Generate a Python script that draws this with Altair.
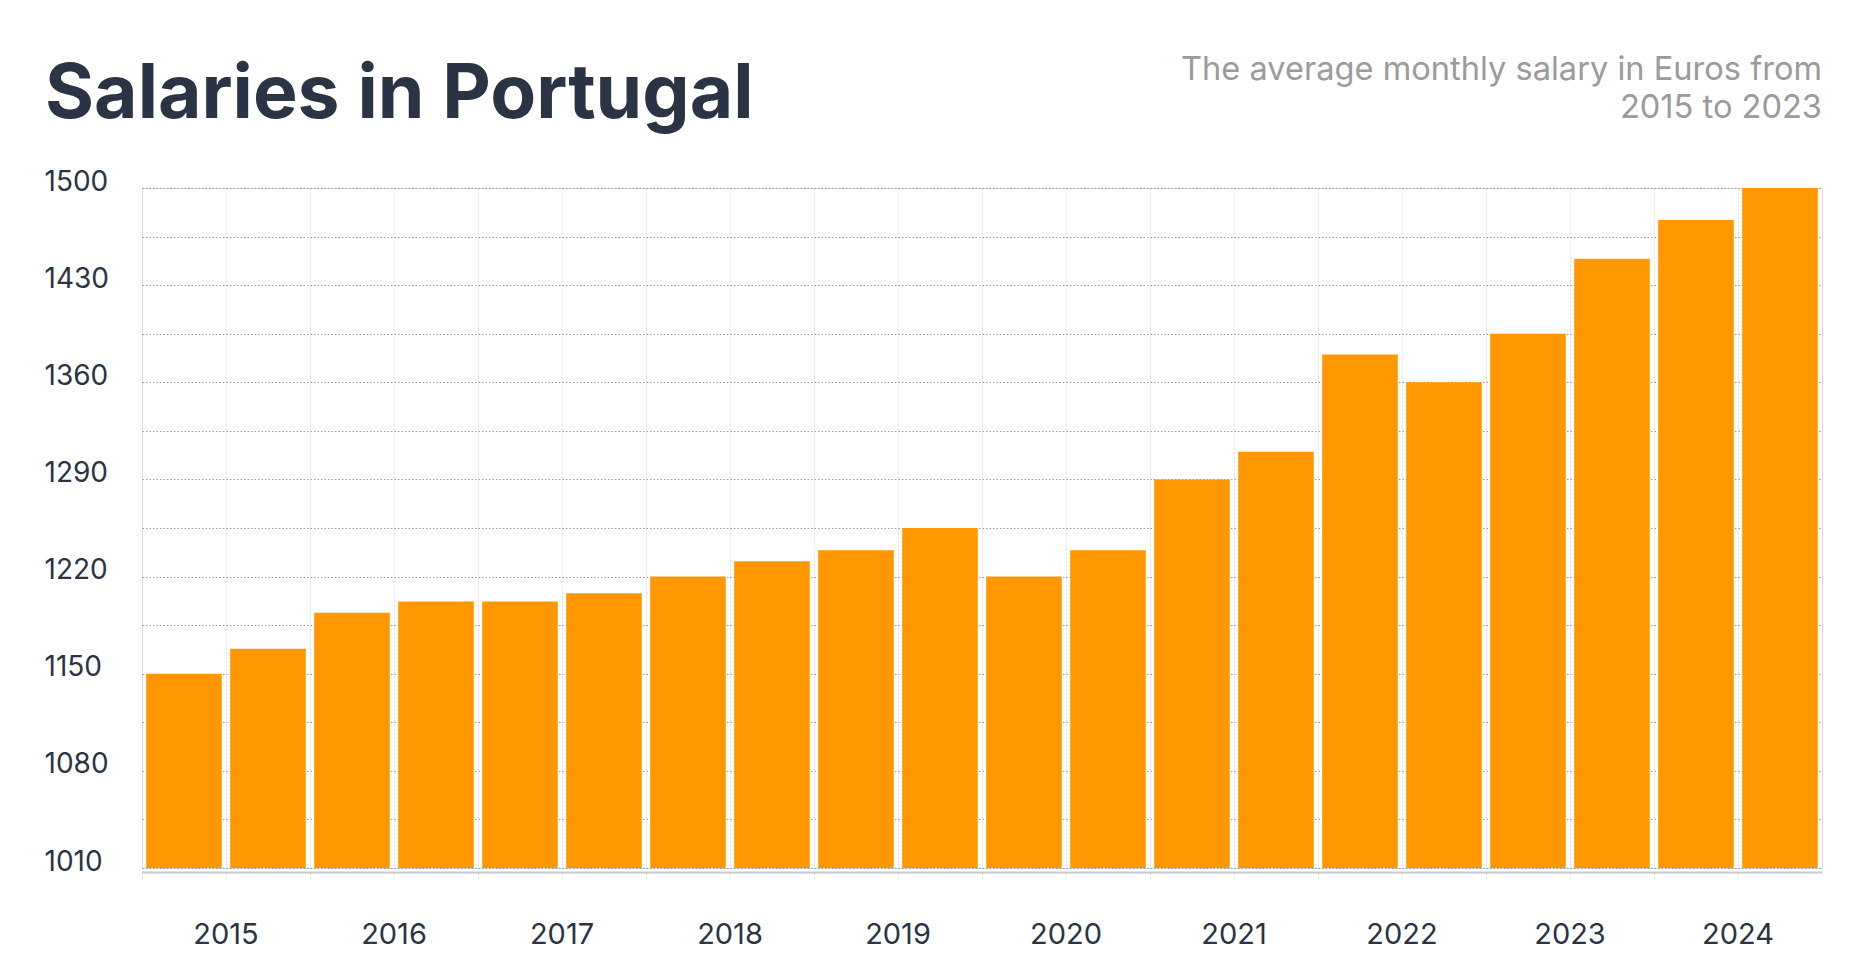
import altair as alt
import pandas as pd

periods = [
    "2015 H1", "2015 H2", "2016 H1", "2016 H2", "2017 H1", "2017 H2",
    "2018 H1", "2018 H2", "2019 H1", "2019 H2", "2020 H1", "2020 H2",
    "2021 H1", "2021 H2", "2022 H1", "2022 H2", "2023 H1", "2023 H2",
    "2024 H1", "2024 H2",
]
salaries = [1150, 1168, 1194, 1202, 1202, 1208, 1220, 1231, 1239, 1255,
            1220, 1239, 1290, 1310, 1380, 1360, 1395, 1449, 1477, 1500]

y_grid = [1010, 1045, 1080, 1115, 1150, 1185, 1220, 1255, 1290, 1325,
          1360, 1395, 1430, 1465, 1500]
y_labels = [1010, 1080, 1150, 1220, 1290, 1360, 1430, 1500]

title = "Salaries in Portugal"
subtitle = ["The average monthly salary in Euros from", "2015 to 2023"]

df = pd.DataFrame({"period": periods, "salary": salaries})

W, H = 1680, 680
STEP = W / len(periods)
FONT = "Inter"
DARK = "#2b3445"

bars = alt.Chart(df).mark_bar(
    color="#ff9800", width=alt.RelativeBandSize(0.9)
).encode(
    x=alt.X("period:N", sort=periods, title=None)
    .scale(paddingInner=0, paddingOuter=0)
    .axis(
        bandPosition=0,
        offset=4,
        # year label sits on the boundary between its two half-years
        labelExpr="slice(datum.value, 5) == 'H2' ? slice(datum.value, 0, 4) : ''",
        labelOffset=-STEP / 2,
        labelAngle=0,
        labelFont=FONT,
        labelFontSize=29,
        labelColor=DARK,
        labelPadding=41,
        labelOverlap=False,
        tickSize=7,
        tickColor="#d6d6d6",
        tickDash=[2, 2],
        domainColor="#c8c8c8",
        domainWidth=2,
        grid=True,
        gridColor="#dedede",
        gridDash=[2, 2],
        gridWidth=1,
    ),
    y=alt.Y("salary:Q", title=None)
    .scale(domain=[1010, 1500], nice=False, zero=False)
    .axis(
        values=y_grid,
        format="d",
        labelExpr=f"indexof({y_labels}, datum.value) >= 0 ? datum.label : ''",
        labelAlign="left",
        labelBaseline="alphabetic",
        labelPadding=98,
        labelFont=FONT,
        labelFontSize=28,
        labelColor=DARK,
        labelOffset=2,
        ticks=False,
        domain=False,
        grid=True,
        gridColor="#9a9a9a",
        gridDash=[1.5, 2],
        gridWidth=1,
    ),
    y2=alt.Y2(datum=y_grid[0]),
)

sub = alt.Chart(pd.DataFrame({"t": [0]})).mark_text(
    text=subtitle,
    align="right",
    baseline="alphabetic",
    font=FONT,
    fontSize=32.6,
    lineHeight=38,
    color="#9b9b9b",
).encode(x=alt.value(W), y=alt.value(-108))

chart = alt.layer(bars, sub).properties(
    width=W,
    height=H,
    title=alt.TitleParams(
        text=title,
        anchor="start",
        frame="group",
        font=FONT,
        fontSize=75,
        fontWeight=700,
        color=DARK,
        dx=-97,
        offset=-80,
    ),
    autosize=alt.AutoSizeParams(type="none"),
    padding={"left": 134, "top": 180, "right": 40, "bottom": 98},
).configure_view(
    stroke="#dedede", strokeDash=[2, 2], strokeWidth=1
).configure(background="white")

chart.save("out.html", embed_options={"renderer": "svg", "actions": False})
